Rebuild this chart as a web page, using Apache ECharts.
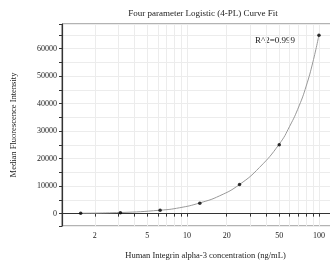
<!DOCTYPE html>
<html>
<head>
<meta charset="utf-8">
<script src="https://cdn.jsdelivr.net/npm/echarts@6/dist/echarts.min.js"></script>
<style>
  html, body { margin: 0; padding: 0; background: #fff; }
  #chart { width: 330px; height: 266px; }
</style>
</head>
<body>
<div id="chart"></div>
<script>
// standard points (ng/mL, MFI)
const concentrations = [1.5625, 3.125, 6.25, 12.5, 25, 50, 100];
const mfiValues = [150, 300, 1200, 3800, 10600, 25100, 64900];

// fitted curve
const curveX = [1.5625, 3.125, 6.25, 8.8, 12.5, 17.7, 25, 35.4, 50, 60, 70.7, 80, 90, 100];
const curveY = [150, 400, 1250, 2150, 3900, 6500, 10600, 16800, 25300, 31800, 39200, 46400, 55200, 65000];

const xLabelTicks = [2, 5, 10, 20, 50, 100];
const xAllTicks = [2, 3, 4, 5, 6, 7, 8, 9, 10, 20, 30, 40, 50, 60, 70, 80, 90, 100];

const serif = '"Liberation Serif", "DejaVu Serif", serif';

const chart = echarts.init(document.getElementById('chart'));

chart.setOption({
  animation: false,
  title: {
    text: 'Four parameter Logistic (4-PL) Curve Fit',
    left: 198,
    top: 4,
    textAlign: 'center',
    textStyle: { fontFamily: serif, fontSize: 9, fontWeight: 'normal', color: '#222' },
  },
  graphic: [
    {
      type: 'text',
      left: 255,
      top: 36,
      style: { text: 'R^2=0.999', font: '9px ' + serif, fill: '#222' },
    },
  ],
  grid: {
    left: 62,
    top: 24,
    width: 273,
    height: 202,
    outerBoundsMode: 'none',
    show: true,
    borderColor: '#666',
    borderWidth: 1,
  },
  xAxis: {
    type: 'log',
    min: 1.128,
    max: 132.3,
    name: 'Human Integrin alpha-3 concentration (ng/mL)',
    nameLocation: 'middle',
    nameGap: 25,
    nameTextStyle: { fontFamily: serif, fontSize: 8.5, color: '#222', padding: [0, 0, 0, 14] },
    axisLine: { lineStyle: { color: '#333', width: 1.2 } },
    axisTick: { customValues: xAllTicks, length: 3, lineStyle: { color: '#333' } },
    axisLabel: {
      customValues: xLabelTicks,
      fontFamily: serif,
      fontSize: 8,
      color: '#222',
      margin: 6,
    },
    splitLine: { show: true, lineStyle: { color: '#ececec', width: 1 } },
  },
  yAxis: {
    type: 'value',
    min: -4500,
    max: 69000,
    splitNumber: 15,
    name: 'Median Fluorescence Intensity',
    nameLocation: 'middle',
    nameGap: 44,
    nameTextStyle: { fontFamily: serif, fontSize: 8.5, color: '#222' },
    axisLine: { show: true, lineStyle: { color: '#333', width: 1.2 } },
    axisTick: { show: true, length: 3, lineStyle: { color: '#333' } },
    axisLabel: {
      fontFamily: serif,
      fontSize: 8,
      color: '#222',
      margin: 5,
      formatter: (v) => (v >= 0 && v % 10000 === 0 ? String(v) : ''),
    },
    splitLine: { show: true, lineStyle: { color: '#ececec', width: 1 } },
  },
  series: [
    {
      name: 'fit',
      type: 'line',
      data: curveX.map((x, i) => [x, curveY[i]]),
      smooth: 0.5,
      symbol: 'none',
      lineStyle: { color: '#999', width: 1 },
      z: 2,
    },
    {
      name: 'standards',
      type: 'scatter',
      data: concentrations.map((x, i) => [x, mfiValues[i]]),
      symbol: 'circle',
      symbolSize: 3.5,
      itemStyle: { color: '#000' },
      z: 3,
    },
  ],
});
</script>
</body>
</html>
